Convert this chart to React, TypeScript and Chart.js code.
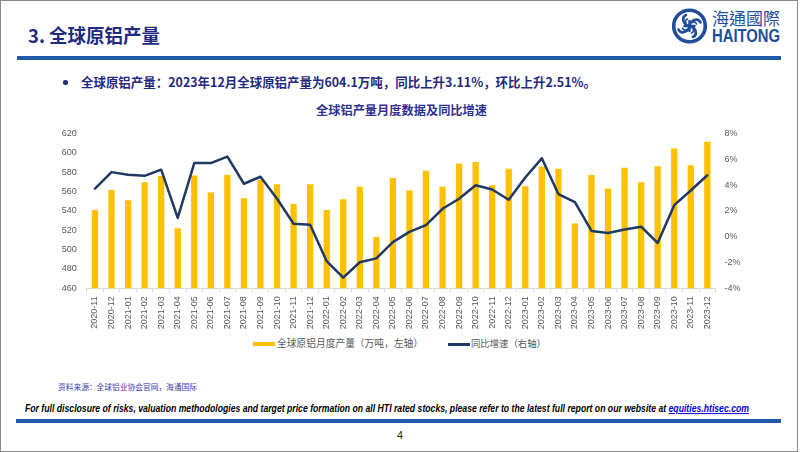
import React, { useEffect, useLayoutEffect, useRef } from "react";
import { Chart, registerables } from "chart.js";

Chart.register(...registerables);

const months = [
  "2020-11", "2020-12",
  "2021-01", "2021-02", "2021-03", "2021-04", "2021-05", "2021-06", "2021-07", "2021-08", "2021-09", "2021-10", "2021-11", "2021-12",
  "2022-01", "2022-02", "2022-03", "2022-04", "2022-05", "2022-06", "2022-07", "2022-08", "2022-09", "2022-10", "2022-11", "2022-12",
  "2023-01", "2023-02", "2023-03", "2023-04", "2023-05", "2023-06", "2023-07", "2023-08", "2023-09", "2023-10", "2023-11", "2023-12",
];

// 全球原铝月度产量（万吨）
const output = [
  541, 561.5,
  551, 569.5, 576, 522, 576.5, 559, 577, 553, 572, 567.5, 547, 567.5,
  541, 552, 565, 513, 574, 561, 581.5, 565, 589, 590.5, 566.5, 583.5,
  565.5, 585.5, 583.5, 527, 577, 563, 584.5, 569.5, 586, 604.5, 587, 611.5,
];

// 同比增速（%）
const yoy = [
  3.73, 5.0,
  4.79, 4.71, 5.19, 1.45, 5.7, 5.7, 6.2, 4.1, 4.64, 2.94, 1.0, 0.92,
  -1.9, -3.17, -1.98, -1.68, -0.42, 0.37, 0.9, 2.16, 2.94, 3.98, 3.65, 2.86,
  4.58, 6.07, 3.3, 2.67, 0.44, 0.29, 0.55, 0.77, -0.49, 2.44, 3.58, 4.76,
];

const leftTicks = { min: 460, max: 620, step: 20 };
const rightTicks = { min: -4, max: 8, step: 2 };

const barLabel = "全球原铝月度产量（万吨，左轴）";
const lineLabel = "同比增速（右轴）";

const BAR_COLOR = "#FFC000";
const LINE_COLOR = "#1F3864";
const NAVY = "#1F2A80";
const BLUE_BAR = "#1F5BA8";

function Fit(props: { x: number; y: number; w: number; style?: React.CSSProperties; children: React.ReactNode }) {
  const ref = useRef<HTMLSpanElement>(null);
  useLayoutEffect(() => {
    const el = ref.current;
    if (!el) return;
    el.style.transform = "translateY(-50%)";
    const nat = el.getBoundingClientRect().width;
    if (nat > 0) el.style.transform = `translateY(-50%) scaleX(${props.w / nat})`;
  });
  return (
    <span
      ref={ref}
      style={{
        position: "absolute",
        left: props.x,
        top: props.y,
        whiteSpace: "nowrap",
        transformOrigin: "left center",
        lineHeight: 1.2,
        ...props.style,
      }}
    >
      {props.children}
    </span>
  );
}

function ChartBox() {
  const canvasRef = useRef<HTMLCanvasElement>(null);
  useEffect(() => {
    if (!canvasRef.current) return;
    const tickFont = { family: "'Liberation Sans', Arial, sans-serif", size: 9 };
    const chart = new Chart(canvasRef.current, {
      type: "bar",
      data: {
        labels: months,
        datasets: [
          {
            type: "bar",
            label: barLabel,
            data: output,
            backgroundColor: BAR_COLOR,
            yAxisID: "y",
            order: 2,
            categoryPercentage: 1,
            barPercentage: 0.38,
          } as any,
          {
            type: "line",
            label: lineLabel,
            data: yoy,
            borderColor: LINE_COLOR,
            backgroundColor: LINE_COLOR,
            borderWidth: 2.5,
            pointRadius: 0,
            tension: 0,
            borderJoinStyle: "round",
            borderCapStyle: "round",
            yAxisID: "y1",
            order: 1,
          } as any,
        ],
      },
      options: {
        animation: false,
        responsive: true,
        maintainAspectRatio: false,
        layout: { padding: { top: 11.7, left: 0, right: 0, bottom: 0 } },
        plugins: { legend: { display: false }, tooltip: { enabled: false } },
        scales: {
          x: {
            grid: { display: true, drawOnChartArea: false, drawTicks: true, tickLength: 4, offset: true, color: "#D9D9D9" },
            border: { display: true, color: "#D9D9D9" },
            ticks: { autoSkip: false, maxRotation: 90, minRotation: 90, padding: 4, color: "#595959", font: tickFont },
            afterFit: (s: any) => { s.height = 40.7; },
          },
          y: {
            position: "left",
            min: leftTicks.min,
            max: leftTicks.max,
            ticks: { stepSize: leftTicks.step, padding: 10, color: "#595959", font: tickFont },
            grid: { display: false, drawTicks: false },
            border: { display: false },
            afterFit: (s: any) => { s.width = 56.7; },
          },
          y1: {
            position: "right",
            min: rightTicks.min,
            max: rightTicks.max,
            ticks: { stepSize: rightTicks.step, padding: 9, color: "#595959", font: tickFont, callback: (v: any) => v + "%" },
            grid: { display: false, drawTicks: false },
            border: { display: false },
            afterFit: (s: any) => { s.width = 54.4; },
          },
        },
      } as any,
    });
    return () => chart.destroy();
  }, []);
  return (
    <div style={{ position: "absolute", left: 30, top: 118, width: 740, height: 211 }}>
      <canvas ref={canvasRef} />
    </div>
  );
}

function Logo() {
  const blades = [0, 90, 180, 270];
  return (
    <svg style={{ position: "absolute", left: 0, top: 0 }} width={802} height={60}>
      <g transform="translate(689.5,26)" fill="none" stroke="#1F4E9A" strokeLinecap="round">
        <circle r="15.8" strokeWidth="3.6" />
        {blades.map((a) => (
          <g key={a} transform={`rotate(${a})`}>
            <path d="M0,-1.5 C3,-7 9,-8 11,-3.5" strokeWidth="2.6" />
            <path d="M2.5,-3.5 C4.5,-4.5 6.5,-4 7,-2" strokeWidth="1.6" />
          </g>
        ))}
        <path d="M-5,0 L5,0 M0,-5 L0,5" strokeWidth="2.4" />
      </g>
      <text
        x={712}
        y={25}
        fontSize={17}
        textLength={68}
        lengthAdjust="spacingAndGlyphs"
        fill="#1F4E9A"
        fontFamily="'Noto Sans CJK TC', 'Noto Sans CJK SC', sans-serif"
      >
        海通國際
      </text>
      <text
        x={712}
        y={42}
        fontSize={18.5}
        fontWeight="bold"
        textLength={68}
        lengthAdjust="spacingAndGlyphs"
        fill="#1F4E9A"
        fontFamily="'Liberation Sans', Arial, sans-serif"
      >
        HAITONG
      </text>
    </svg>
  );
}

export default function App() {
  const cjk = "'Noto Sans CJK SC', 'Noto Sans', sans-serif";
  return (
    <div
      style={{
        position: "absolute",
        left: 0,
        top: 0,
        width: 802,
        height: 452,
        background: "#ffffff",
        overflow: "hidden",
        fontFamily: cjk,
      }}
    >
      <div
        style={{
          position: "absolute",
          left: 0,
          top: 0,
          width: 798,
          height: 452,
          boxSizing: "border-box",
          border: "1px solid #8a8a8a",
        }}
      />
      <Fit x={28} y={34.5} w={132} style={{ fontSize: 19, fontWeight: 700, color: NAVY, fontFamily: cjk }}>
        3. 全球原铝产量
      </Fit>
      <Logo />
      <div style={{ position: "absolute", left: 17, top: 56, width: 764, height: 4, background: BLUE_BAR }} />

      <div
        style={{
          position: "absolute",
          left: 63,
          top: 80,
          width: 4.5,
          height: 4.5,
          borderRadius: "50%",
          background: NAVY,
        }}
      />
      <Fit x={81} y={82} w={515} style={{ fontSize: 12.7, fontWeight: 700, color: NAVY, fontFamily: cjk }}>
        全球原铝产量：2023年12月全球原铝产量为604.1万吨，同比上升3.11%，环比上升2.51%。
      </Fit>

      <Fit x={316} y={109.5} w={171} style={{ fontSize: 12, fontWeight: 700, color: "#2E3192", fontFamily: cjk }}>
        全球铝产量月度数据及同比增速
      </Fit>

      <ChartBox />

      <div style={{ position: "absolute", left: 253, top: 342, width: 22, height: 4, background: BAR_COLOR }} />
      <Fit x={277} y={344} w={146} style={{ fontSize: 9.8, color: "#595959", fontFamily: cjk }}>
        {barLabel}
      </Fit>
      <div style={{ position: "absolute", left: 448, top: 343, width: 22, height: 2.5, background: LINE_COLOR }} />
      <Fit x={471} y={344} w={75} style={{ fontSize: 9.6, color: "#595959", fontFamily: cjk }}>
        {lineLabel}
      </Fit>

      <Fit x={58} y={387} w={139} style={{ fontSize: 7.7, color: "#4040B0", fontFamily: cjk }}>
        资料来源：全球铝业协会官网，海通国际
      </Fit>

      <Fit
        x={25}
        y={409}
        w={724}
        style={{ fontSize: 11.5, fontWeight: 700, fontStyle: "italic", color: "#000", fontFamily: "'Liberation Sans', Arial, sans-serif" }}
      >
        <span>
          For full disclosure of risks, valuation methodologies and target price formation on all HTI rated stocks, please refer to the latest full report on our website at{" "}
        </span>
        <a style={{ color: "#0000EE", textDecoration: "underline" }}>equities.htisec.com</a>
      </Fit>
      <div style={{ position: "absolute", left: 16, top: 419, width: 765, height: 4, background: BLUE_BAR }} />

      <Fit x={397} y={435.5} w={6} style={{ fontSize: 10, color: "#222", fontFamily: "'Liberation Sans', Arial, sans-serif" }}>
        4
      </Fit>
    </div>
  );
}
